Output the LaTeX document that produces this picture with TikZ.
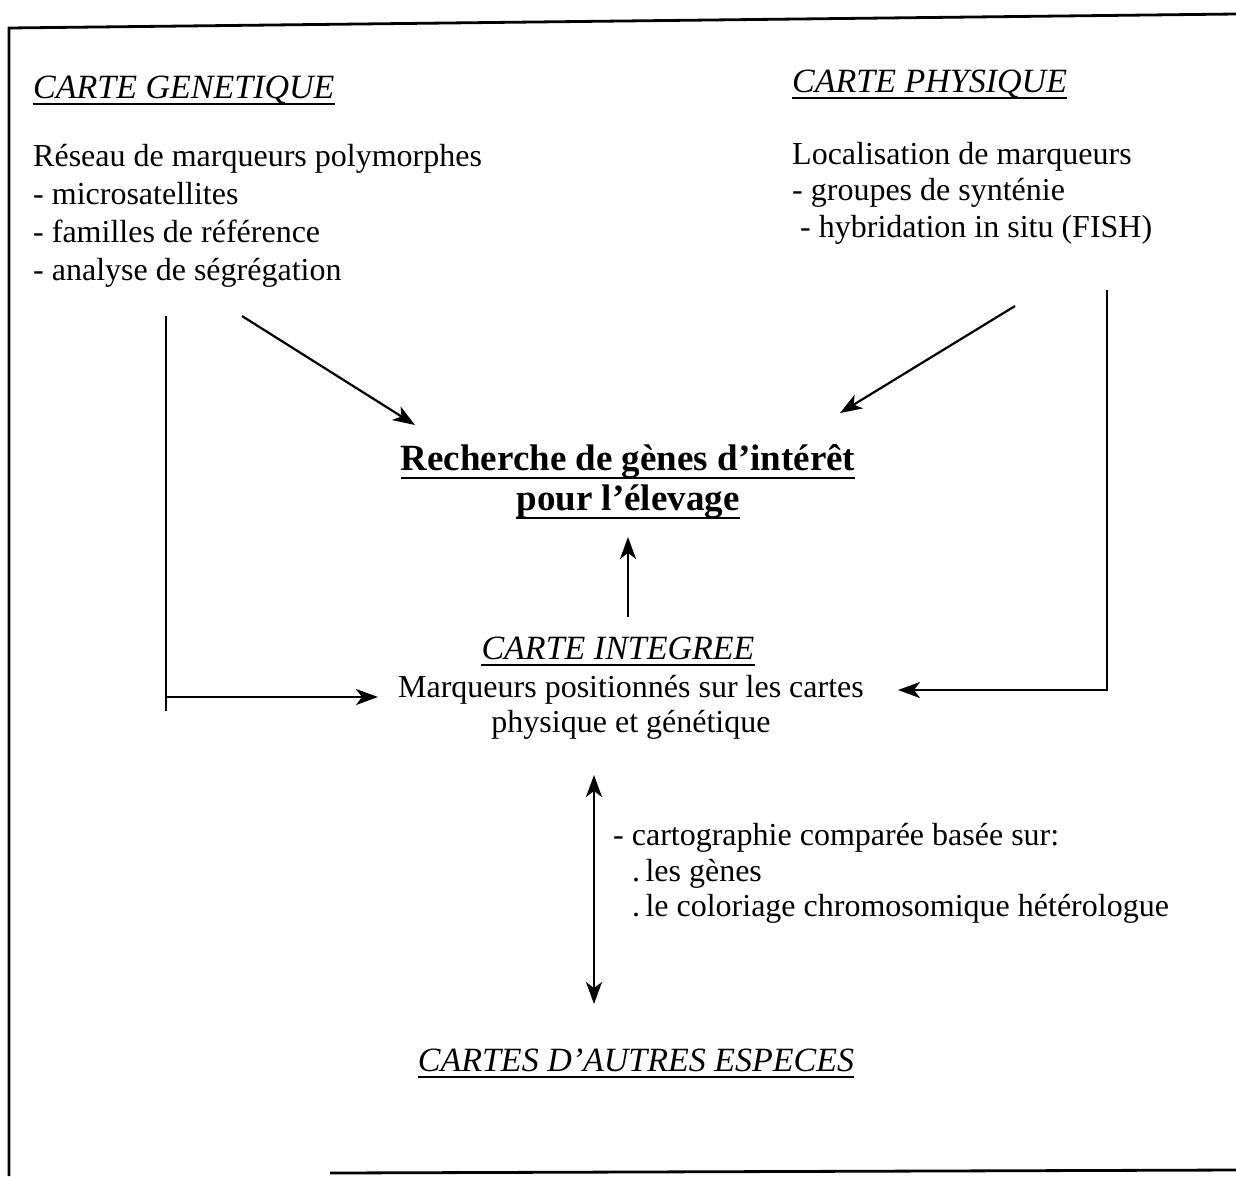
\documentclass[tikz,border=0pt]{standalone}
\usepackage{fontspec}
\setmainfont{Liberation Serif}
\usetikzlibrary{arrows.meta,calc}
\begin{document}
\begin{tikzpicture}[x=1pt,y=1pt,
  txt/.style={inner sep=0pt,anchor=base west,font=\fontsize{32}{38}\selectfont},
  ttl/.style={inner sep=0pt,anchor=base west,font=\fontsize{34}{40}\selectfont\itshape},
  big/.style={inner sep=0pt,anchor=base,font=\fontsize{37}{40}\selectfont\bfseries},
  uline/.style={line width=2.6pt},
  conn/.style={line width=2.2pt},
  tip/.tip={Stealth[length=22pt,width=16pt,inset=6pt]},
  arr/.style={conn,-tip},
  frame/.style={line width=2.8pt}]
\useasboundingbox (0,0) rectangle (1236,-1176);
% frame
\coordinate (f1) at (9,-1176);
\coordinate (f2) at (9,-28);
\coordinate (f3) at (1236,-14);
\coordinate (f4) at (330,-1173);
\coordinate (f5) at (1236,-1170);
\draw[frame] (f1) -- (f2) -- (f3);
\draw[frame] (f4) -- (f5);
% titles
\node[ttl] (gen) at (33,-98) {CARTE GENETIQUE};
\node[ttl] (phy) at (792,-92) {CARTE PHYSIQUE};
\draw[uline] ($(gen.base west)+(0,-6)$) -- ($(gen.base east)+(0,-6)$);
\draw[uline] ($(phy.base west)+(0,-6)$) -- ($(phy.base east)+(0,-6)$);
% left block
\node[txt] (g1) at (33,-166) {Réseau de marqueurs polymorphes};
\node[txt] (g2) at (33,-204) {- microsatellites};
\node[txt] (g3) at (33,-242) {- familles de référence};
\node[txt] (g4) at (33,-280) {- analyse de ségrégation};
% right block
\node[txt] (p1) at (792,-164) {Localisation de marqueurs};
\node[txt] (p2) at (792,-200) {- groupes de synténie};
\node[txt] (p3) at (800,-237) {- hybridation in situ (FISH)};
% centre
\node[big] (r1) at (628,-470) {Recherche de gènes d’intérêt};
\node[big] (r2) at (628,-510) {pour l’élevage};
\draw[uline] ($(r1.base west)+(0,-8)$) -- ($(r1.base east)+(0,-8)$);
\draw[uline] ($(r2.base west)+(0,-8)$) -- ($(r2.base east)+(0,-8)$);
\node[ttl,anchor=base] (int) at (618,-659) {CARTE INTEGREE};
\draw[uline] ($(int.base west)+(0,-6)$) -- ($(int.base east)+(0,-6)$);
\node[txt,anchor=base] (m1) at (631,-697) {Marqueurs positionnés sur les cartes};
\node[txt,anchor=base] (m2) at (631,-732) {physique et génétique};
% comparative
\node[txt] (c1) at (613,-845) {- cartographie comparée basée sur:};
\node[txt] (c2) at (632,-881) {.\,les gènes};
\node[txt] (c3) at (632,-916) {.\,le coloriage chromosomique hétérologue};
\node[ttl,anchor=base] (esp) at (636,-1071) {CARTES D’AUTRES ESPECES};
\draw[uline] ($(esp.base west)+(0,-6)$) -- ($(esp.base east)+(0,-6)$);
% connectors
\coordinate (a1) at (242,-316);
\coordinate (a2) at (415,-425);
\draw[arr] (a1) -- (a2);
\coordinate (b1) at (1015,-306);
\coordinate (b2) at (840,-413);
\draw[arr] (b1) -- (b2);
\coordinate (u1) at (628,-617);
\coordinate (u2) at (628,-537);
\draw[arr] (u1) -- (u2);
\coordinate (l1) at (166,-316);
\coordinate (l2) at (166,-711);
\coordinate (l3) at (166,-697);
\coordinate (l4) at (378,-697);
\draw[conn] (l1) -- (l2);
\draw[arr] (l3) -- (l4);
\coordinate (q1) at (1107,-290);
\coordinate (q2) at (1107,-690);
\coordinate (q3) at (898,-690);
\draw[arr] (q1) -- (q2) -- (q3);
\coordinate (d1) at (594,-775);
\coordinate (d2) at (594,-1004);
\draw[conn,tip-tip] (d1) -- (d2);
\end{tikzpicture}
\end{document}
